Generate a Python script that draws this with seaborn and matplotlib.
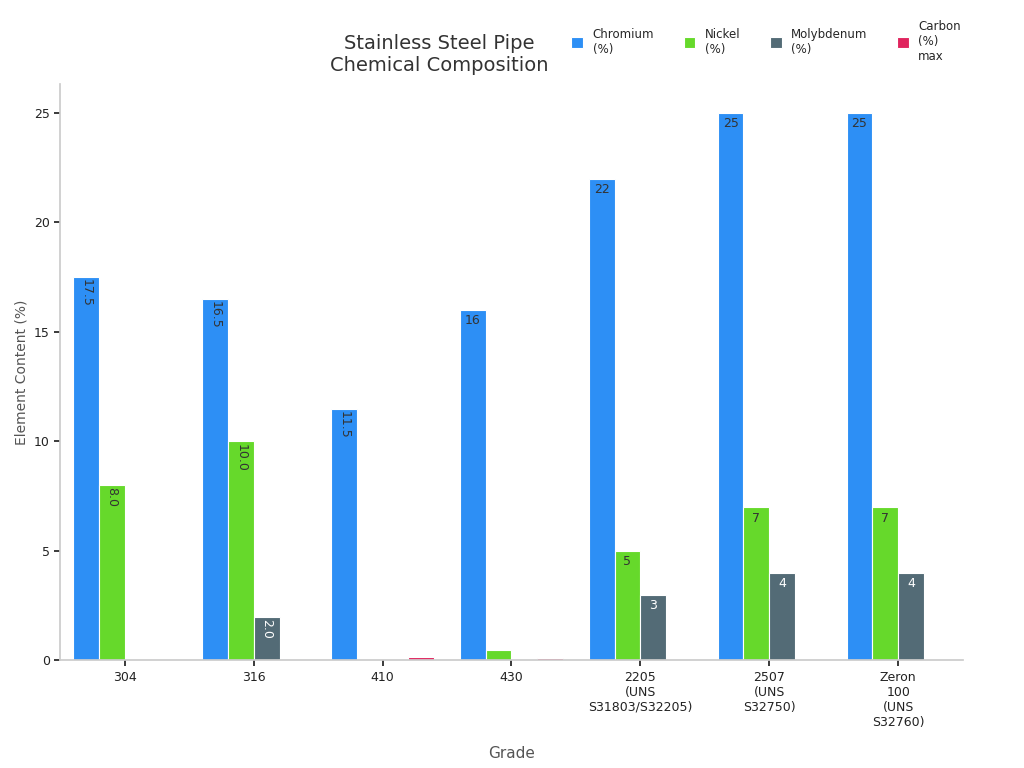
import pandas as pd
import matplotlib.pyplot as plt
import seaborn as sns

grades = ["304", "316", "410", "430", "2205\n(UNS\nS31803/S32205)",
          "2507\n(UNS\nS32750)", "Zeron\n100\n(UNS\nS32760)"]
chromium = [17.5, 16.5, 11.5, 16, 22, 25, 25]
nickel = [8.0, 10.0, 0, 0.5, 5, 7, 7]
molybdenum = [0, 2.0, 0, 0, 3, 4, 4]
carbon = [0.08, 0.08, 0.15, 0.12, 0.03, 0.03, 0.03]
series = ["Chromium\n(%)", "Nickel\n(%)", "Molybdenum\n(%)", "Carbon\n(%)\nmax"]
colors = ["#2d8ff5", "#66d92b", "#536b76", "#e0245e"]
# label style per grade: decimals rotated in first four grades
rotated = [True, True, True, False, False, False, False]

rows = []
for vals, name in zip([chromium, nickel, molybdenum, carbon], series):
    for g, v in zip(grades, vals):
        rows.append({"Grade": g, "Element": name, "Value": v})
df = pd.DataFrame(rows)

sns.set_theme(style="white")
fig, ax = plt.subplots(figsize=(10.24, 7.68), dpi=100)
sns.barplot(data=df, x="Grade", y="Value", hue="Element", palette=colors,
            saturation=1, width=0.8, edgecolor="white", linewidth=0.8, ax=ax)

for k, cont in enumerate(ax.containers):
    for i, patch in enumerate(cont):
        v = patch.get_height()
        if v < 1:
            continue
        x = patch.get_x() + patch.get_width() / 2
        tc = "white" if k == 2 else "#333333"
        if rotated[i]:
            ax.text(x, v - 0.1, f"{v:.1f}", rotation=270, ha="center", va="top",
                    fontsize=9, color=tc)
        else:
            ax.text(x, v - 0.2, f"{v:g}", ha="center", va="top", fontsize=9, color=tc)

ax.set_ylim(0, 26.3)
ax.set_yticks([0, 5, 10, 15, 20, 25])
ax.set_xlabel("Grade", color="#555555", fontsize=11, labelpad=12)
ax.set_ylabel("Element Content (%)", color="#555555", fontsize=10)
ax.tick_params(axis="both", labelsize=9, colors="#222222", length=4, bottom=True, left=True)
for s in ["top", "right"]:
    ax.spines[s].set_visible(False)
for s in ["left", "bottom"]:
    ax.spines[s].set_color("#cccccc")
ax.set_title("Stainless Steel Pipe\nChemical Composition", fontsize=14, color="#333333",
             pad=10, x=0.42)
ax.legend(loc="upper right", bbox_to_anchor=(1.01, 1.13), ncol=4, frameon=False,
          fontsize=8.5, handlelength=1.0, handleheight=1.0, columnspacing=2.5)
fig.subplots_adjust(left=0.059, right=0.94, top=0.89, bottom=0.14)
fig.savefig("out.png", dpi=100)
